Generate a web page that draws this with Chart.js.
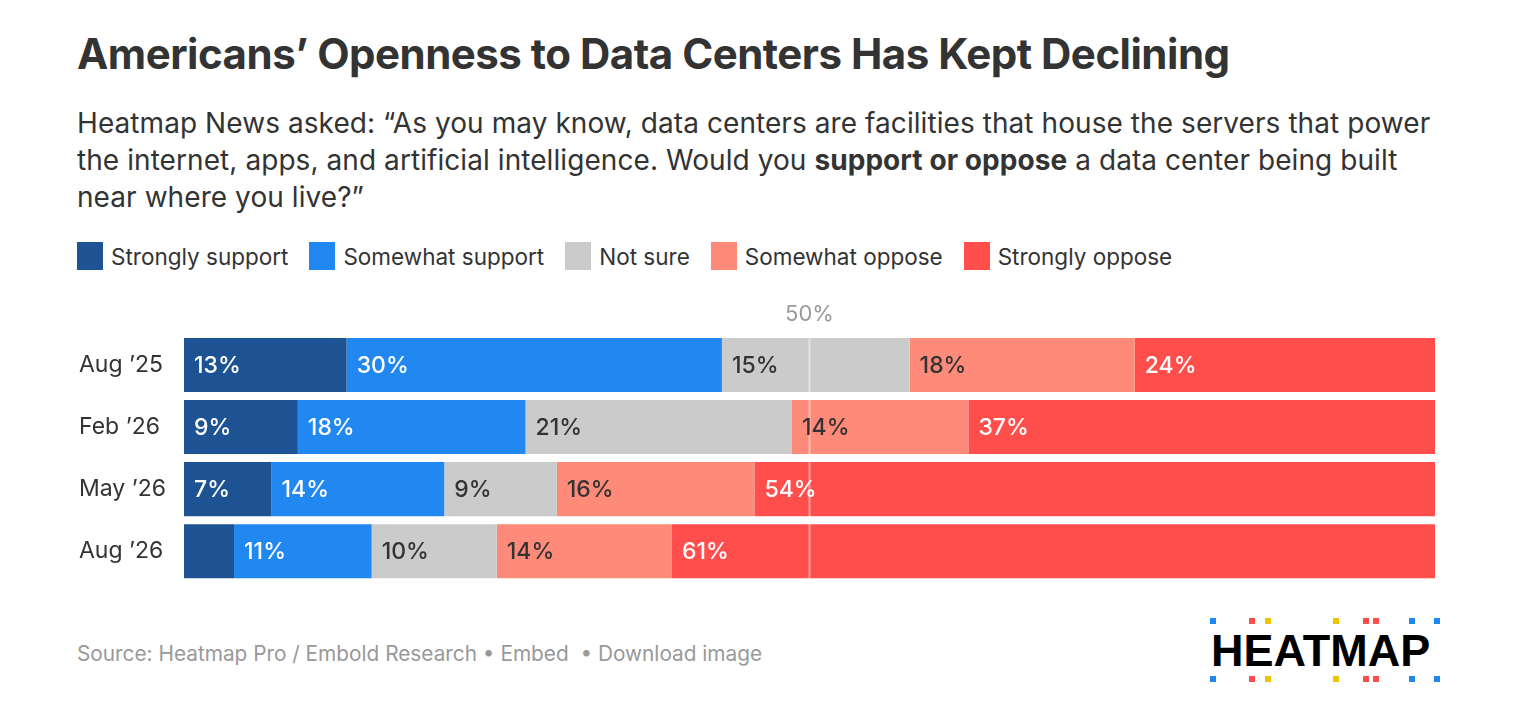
<!DOCTYPE html>
<html><head><meta charset="utf-8">
<script src="https://cdn.jsdelivr.net/npm/chart.js@4"></script>
<style>
html,body{margin:0;padding:0;background:#fff;width:1517px;height:720px;overflow:hidden;font-family:Inter,"Noto Sans",sans-serif;color:#333;}
#title{position:absolute;left:77px;top:33px;font-size:42px;line-height:42px;font-weight:700;letter-spacing:-0.5px;white-space:nowrap;color:#333;}
#sub{position:absolute;left:77px;top:105px;font-size:28px;line-height:37px;letter-spacing:0.07px;white-space:nowrap;color:#333;}
#sub b{font-weight:700;}
#legend{position:absolute;left:77px;top:242px;height:28px;display:flex;align-items:center;font-size:22.5px;color:#333;white-space:nowrap;}
#legend .it{display:flex;align-items:center;margin-right:21px;}
#legend .sw{width:26px;height:28px;margin-right:8px;}
#chartwrap{position:absolute;left:0;top:290px;width:1517px;height:306px;}
#foot{position:absolute;left:77px;top:642px;font-size:20.8px;line-height:24px;color:#999;white-space:nowrap;}
#logo{position:absolute;left:1200px;top:610px;width:250px;height:80px;}
#logo .t{position:absolute;left:11px;top:16px;font-family:"Liberation Sans",Arial,sans-serif;font-weight:700;font-size:45px;line-height:50px;color:#000;letter-spacing:0px;}
#logo .d{position:absolute;width:6px;height:6px;}
</style>
</head><body>
<div id="title">Americans’ Openness to Data Centers Has Kept Declining</div>
<div id="sub">Heatmap News asked: “As you may know, data centers are facilities that house the servers that power<br>the internet, apps, and artificial intelligence. Would you <b>support or oppose</b> a data center being built<br>near where you live?”</div>
<div id="legend"></div>
<div id="chartwrap"><canvas id="c" width="1517" height="306" style="width:1517px;height:306px"></canvas></div>
<div id="foot">Source: Heatmap Pro / Embold Research • Embed&nbsp; • Download image</div>
<div id="logo"><div class="t">HEATMAP</div></div>
<script>
// ---- data ----
const categories = ["Aug ’25", "Feb ’26", "May ’26", "Aug ’26"];
const seriesNames = ["Strongly support", "Somewhat support", "Not sure", "Somewhat oppose", "Strongly oppose"];
const stronglySupport = [13, 9.1, 7.0, 4];
const somewhatSupport = [30, 18.2, 13.8, 11];
const notSure = [15, 21.3, 9, 10];
const somewhatOppose = [18, 14.1, 15.8, 14];
const stronglyOppose = [24, 37.3, 54.4, 61];
const referenceValue = 50;
const referenceLabel = "50%";

// ---- styles ----
const seriesColors = ["#1e5393", "#2188f2", "#cbcbcb", "#fe8b7a", "#ff4e4c"];
const labelColors = ["#ffffff", "#ffffff", "#333333", "#333333", "#ffffff"];
const seriesValues = [stronglySupport, somewhatSupport, notSure, somewhatOppose, stronglyOppose];

// legend
const lg = document.getElementById('legend');
seriesNames.forEach((n, i) => {
  const it = document.createElement('div'); it.className = 'it';
  const sw = document.createElement('div'); sw.className = 'sw'; sw.style.background = seriesColors[i];
  const tx = document.createElement('span'); tx.textContent = n;
  it.appendChild(sw); it.appendChild(tx); lg.appendChild(it);
});

// logo dots
const dotsX = [[10,'#2188f2'],[49,'#ff4e4c'],[65,'#ecc400'],[133,'#ecc400'],[163,'#ff4e4c'],[173,'#ff4e4c'],[209,'#2188f2'],[234,'#2188f2']];
const logo = document.getElementById('logo');
[8, 66].forEach(y => dotsX.forEach(([x, c]) => {
  const d = document.createElement('div'); d.className = 'd';
  d.style.left = x + 'px'; d.style.top = y + 'px'; d.style.background = c; logo.appendChild(d);
}));

const labelPlugin = {
  id: 'barLabels',
  afterDatasetsDraw(chart) {
    const ctx = chart.ctx;
    const xs = chart.scales.x;
    const x50 = xs.getPixelForValue(referenceValue);
    const first = chart.getDatasetMeta(0).data;
    const top = first[0].y - first[0].height / 2;
    const last = first[first.length - 1];
    const bottom = last.y + last.height / 2;
    ctx.save();
    ctx.strokeStyle = 'rgba(255,255,255,0.45)';
    ctx.lineWidth = 2;
    ctx.beginPath(); ctx.moveTo(x50, top); ctx.lineTo(x50, bottom); ctx.stroke();
    ctx.fillStyle = '#999';
    ctx.font = '22px Inter';
    ctx.textAlign = 'center'; ctx.textBaseline = 'middle';
    ctx.fillText(referenceLabel, x50, chart.chartArea.top - 20);
    ctx.font = '500 23px Inter';
    ctx.textAlign = 'left';
    chart.data.datasets.forEach((ds, i) => {
      const meta = chart.getDatasetMeta(i);
      meta.data.forEach((el, j) => {
        const v = ds.data[j];
        if (v < 5) return;
        ctx.fillStyle = labelColors[i];
        ctx.fillText(Math.round(v) + '%', Math.min(el.base, el.x) + 10, el.y + 1);
      });
    });
    ctx.restore();
  }
};

new Chart(document.getElementById('c'), {
  type: 'bar',
  data: {
    labels: categories,
    datasets: seriesNames.map((n, i) => ({
      label: n,
      data: seriesValues[i],
      backgroundColor: seriesColors[i],
      borderWidth: 0,
      categoryPercentage: 1,
      barPercentage: 0.871
    }))
  },
  options: {
    indexAxis: 'y',
    responsive: false,
    animation: false,
    layout: { padding: { left: 79, right: 82, top: 44, bottom: 0 } },
    plugins: { legend: { display: false }, tooltip: { enabled: false } },
    scales: {
      x: { stacked: true, min: 0, max: 100, display: false },
      y: {
        stacked: true,
        grid: { display: false, drawTicks: false },
        border: { display: false },
        ticks: { color: '#333', font: { family: 'Inter', size: 23 }, crossAlign: 'far', padding: 0 },
        afterFit(s) { s.width = 105; }
      }
    }
  },
  plugins: [labelPlugin]
});
</script>
</body></html>
